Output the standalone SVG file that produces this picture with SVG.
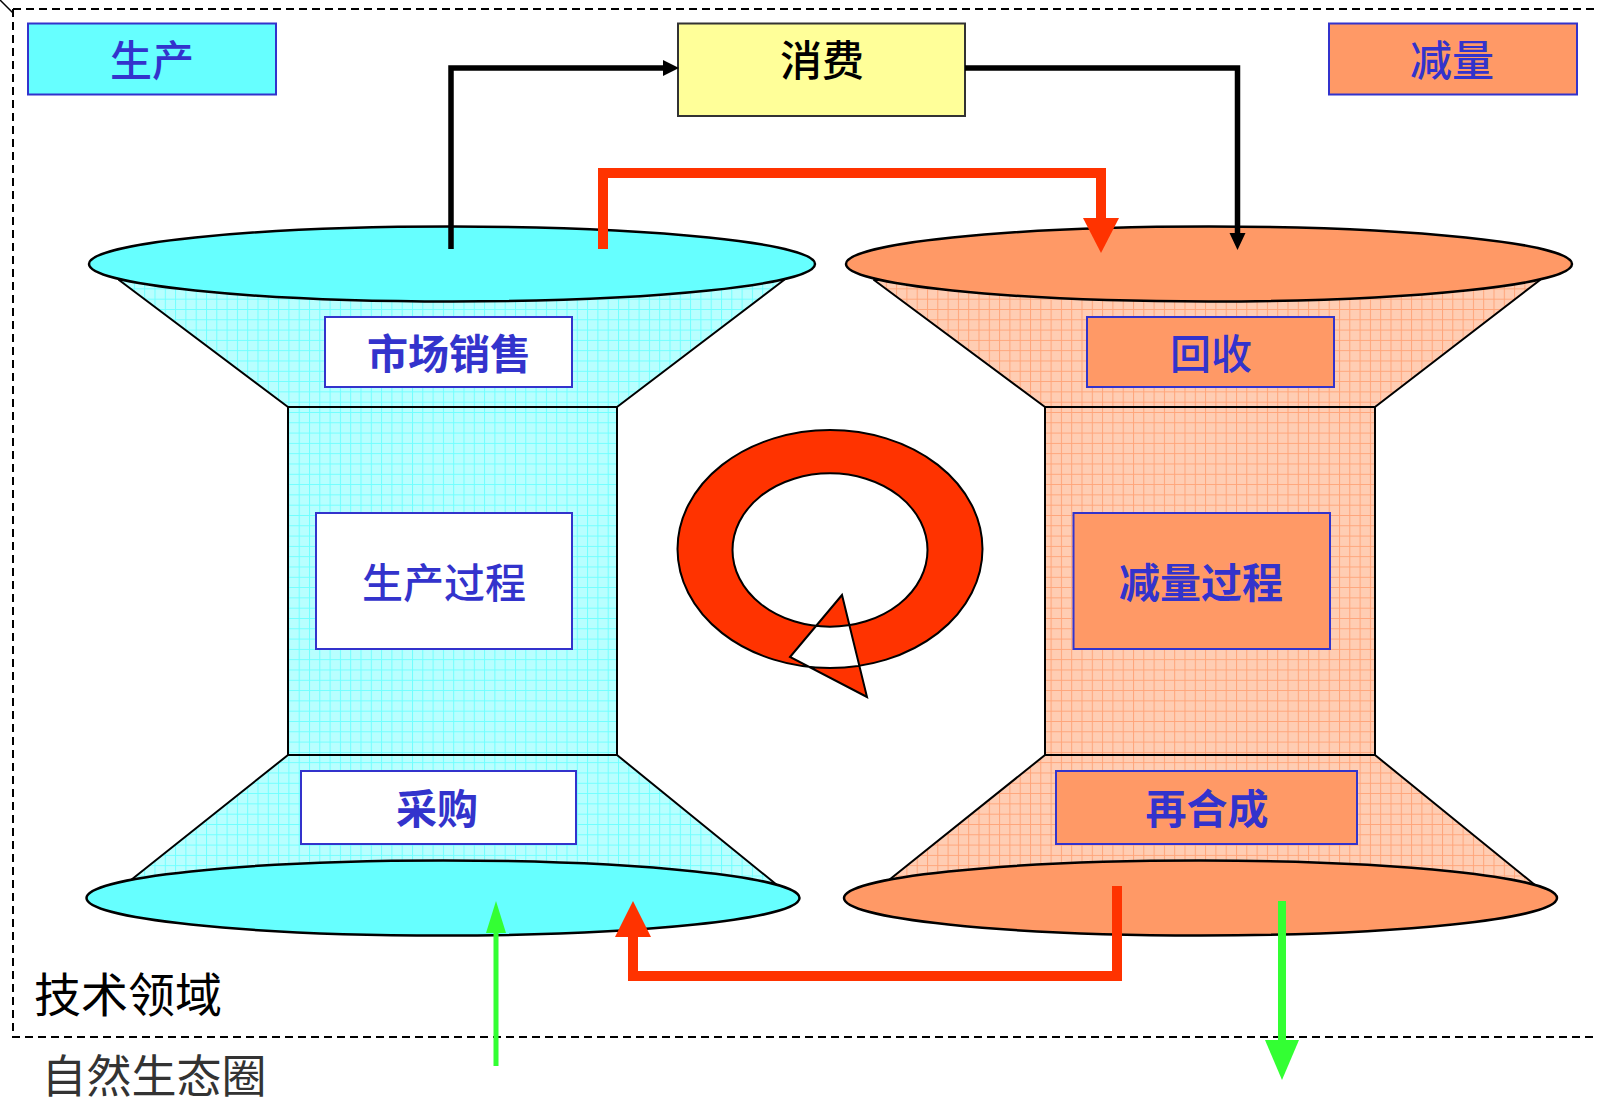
<svg xmlns="http://www.w3.org/2000/svg" width="1597" height="1104" viewBox="0 0 1597 1104">
<defs>
<pattern id="gridC" width="10.3" height="10.3" patternUnits="userSpaceOnUse">
<rect width="10.3" height="10.3" fill="#b8ffff"/>
<path d="M0 0.5H10.3M0.5 0V10.3" stroke="#70ffff" stroke-width="1"/>
</pattern>
<pattern id="gridO" width="10.3" height="10.3" patternUnits="userSpaceOnUse">
<rect width="10.3" height="10.3" fill="#ffcdb3"/>
<path d="M0 0.5H10.3M0.5 0V10.3" stroke="#ffa57a" stroke-width="1"/>
</pattern>
</defs>
<style>
text{font-family:"Noto Sans CJK SC","Noto Sans",sans-serif;text-anchor:middle;dominant-baseline:central}
.lbl{fill:#3333cc;font-size:41px;font-weight:500}
.b{font-weight:bold}
.hdr{font-size:42px}
.lbox{fill:#ffffff;stroke:#3333cc;stroke-width:2}
.obox{fill:#ff9966;stroke:#3333cc;stroke-width:2}
.fc{fill:url(#gridC);stroke:#000;stroke-width:2;stroke-linejoin:round}
.fo{fill:url(#gridO);stroke:#000;stroke-width:2;stroke-linejoin:round}
.ec{fill:#66ffff;stroke:#000;stroke-width:2.5}
.eo{fill:#ff9966;stroke:#000;stroke-width:2.5}
.blk{fill:none;stroke:#000;stroke-width:5.5}
.red{fill:none;stroke:#ff3300;stroke-width:10}
.grn{fill:none;stroke:#33ff33}
.dash{fill:none;stroke:#000;stroke-width:2;stroke-dasharray:8 5}
</style>
<rect width="1597" height="1104" fill="#ffffff"/>

<g id="border">
<path class="dash" d="M13 9H1597M13 9V1037H1597"/>
<line x1="0" y1="0" x2="13" y2="13" stroke="#000" stroke-width="1.5"/>
</g>

<g id="funnel-left">
<polygon class="fc" points="119,280 784,280 617,407 288,407"/>
<rect class="fc" x="288" y="407" width="329" height="348"/>
<polygon class="fc" points="288,755 617,755 777,885 131,880"/>
<ellipse class="ec" cx="452" cy="264" rx="363" ry="37.5"/>
<ellipse class="ec" cx="443" cy="898" rx="356.5" ry="37.5"/>
</g>

<g id="funnel-right">
<polygon class="fo" points="874,280 1540,280 1375,407 1045,407"/>
<rect class="fo" x="1045" y="407" width="330" height="348"/>
<polygon class="fo" points="1045,755 1375,755 1535,885 889,880"/>
<ellipse class="eo" cx="1209" cy="264" rx="363" ry="37.5"/>
<ellipse class="eo" cx="1200.5" cy="898" rx="356.5" ry="37.5"/>
</g>

<g id="node-shengchan">
<rect x="28" y="23.5" width="248" height="71" fill="#66ffff" stroke="#3333cc" stroke-width="2"/>
<text class="lbl hdr" x="152" y="57">生产</text>
</g>
<g id="node-xiaofei">
<rect x="678" y="23.5" width="287" height="92.5" fill="#ffff99" stroke="#333" stroke-width="2"/>
<text class="hdr" x="822" y="57" fill="#000" font-weight="500">消费</text>
</g>
<g id="node-jianliang">
<rect x="1329" y="23.5" width="248" height="71" class="obox"/>
<text class="lbl hdr" x="1452" y="57">减量</text>
</g>

<g id="node-shichang">
<rect class="lbox" x="325" y="317" width="247" height="70"/>
<text class="lbl b" x="449" y="351">市场销售</text>
</g>
<g id="node-shengchanguocheng">
<rect class="lbox" x="316" y="513" width="256" height="136"/>
<text class="lbl" x="444" y="580">生产过程</text>
</g>
<g id="node-caigou">
<rect class="lbox" x="301" y="771" width="275" height="73"/>
<text class="lbl b" x="437" y="806">采购</text>
</g>
<g id="node-huishou">
<rect class="obox" x="1087" y="317" width="247" height="70"/>
<text class="lbl" x="1211" y="351">回收</text>
</g>
<g id="node-jianliangguocheng">
<rect class="obox" x="1073.5" y="513" width="256.5" height="136"/>
<text class="lbl b" x="1201" y="580">减量过程</text>
</g>
<g id="node-zaihecheng">
<rect class="obox" x="1056" y="771" width="301" height="73"/>
<text class="lbl b" x="1207" y="806">再合成</text>
</g>

<g id="cycle">
<path d="M677.5 549a152.5 119 0 1 0 305 0a152.5 119 0 1 0-305 0ZM732.5 550a97.5 76.7 0 1 0 195 0a97.5 76.7 0 1 0-195 0ZM842 595L790 657L867 697Z" fill="#ff3300" fill-rule="evenodd" stroke="#000" stroke-width="2" stroke-linejoin="miter"/>
</g>

<g id="connectors">
<path class="blk" d="M451 249V68H664"/>
<polygon points="663,60 679,68 663,76" fill="#000"/>
<path class="blk" d="M965 68H1237.5V234"/>
<polygon points="1229.5,233 1245.5,233 1237.5,250" fill="#000"/>
<path class="red" d="M603 249V173H1101V220" stroke-linejoin="miter"/>
<polygon points="1083,218 1119,218 1101,253" fill="#ff3300"/>
<path class="red" d="M1117 886V976H633V936" stroke-width="11" stroke-linejoin="miter"/>
<polygon points="615,937 651,937 633,901" fill="#ff3300"/>
<path class="grn" d="M496 1066V930" stroke-width="5"/>
<polygon points="486,933 506,933 496,901" fill="#33ff33"/>
<path class="grn" d="M1282 901V1045" stroke-width="8"/>
<polygon points="1265,1040 1299,1040 1282,1080" fill="#33ff33"/>
</g>

<g id="labels">
<text x="128" y="991" font-size="47" fill="#000">技术领域</text>
<text x="154" y="1073" font-size="45" fill="#333">自然生态圈</text>
</g>
</svg>
